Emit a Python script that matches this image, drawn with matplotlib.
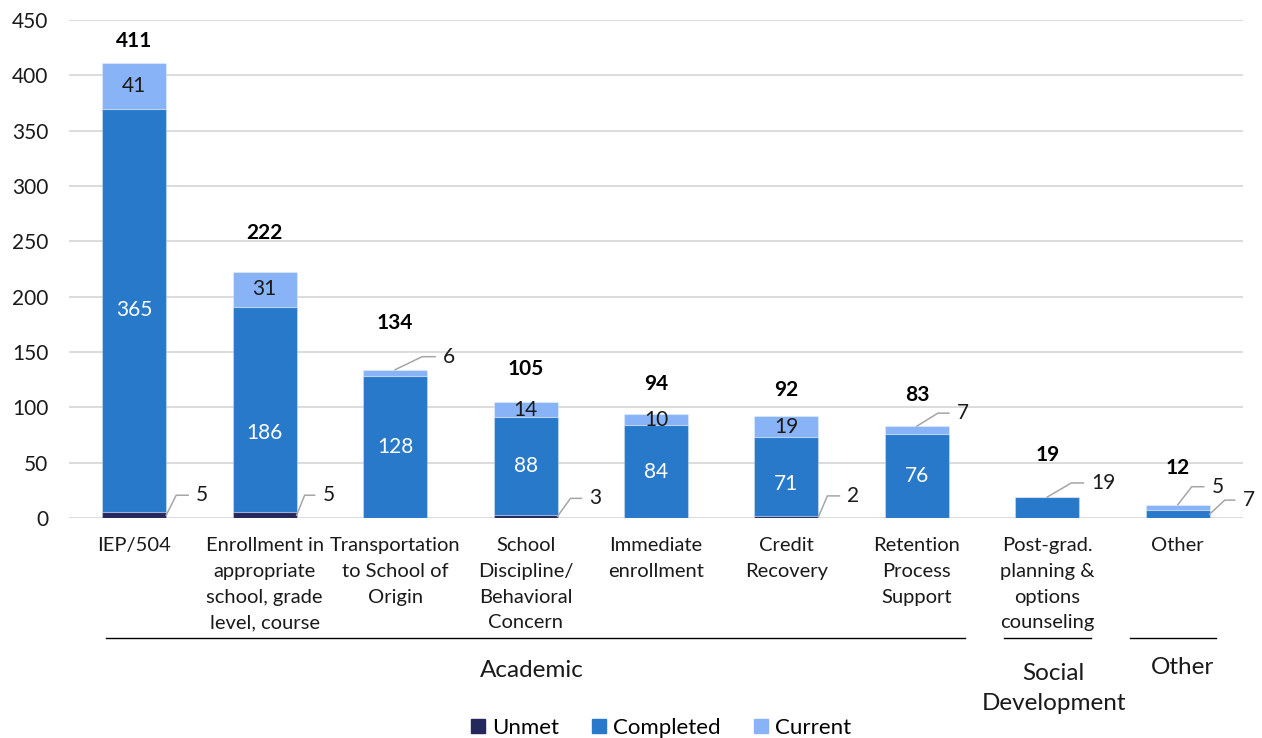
import numpy as np
import matplotlib.pyplot as plt
import matplotlib.transforms as mtransforms
from matplotlib.patches import Patch

plt.rcParams['font.family'] = ['Lato', 'DejaVu Sans']

categories = ['IEP/504',
              'Enrollment in\nappropriate\nschool, grade\nlevel, course',
              'Transportation\nto School of\nOrigin',
              'School\nDiscipline/\nBehavioral\nConcern',
              'Immediate\nenrollment',
              'Credit\nRecovery',
              'Retention\nProcess\nSupport',
              'Post-grad.\nplanning &\noptions\ncounseling',
              'Other']
unmet = [5, 5, 0, 3, 0, 2, 0, 0, 0]
completed = [365, 186, 128, 88, 84, 71, 76, 19, 7]
current = [41, 31, 6, 14, 10, 19, 7, 0, 5]
groups = ['Academic', 'Social\nDevelopment', 'Other']

colors = {'Unmet': '#25285A', 'Completed': '#2979CB', 'Current': '#88B3F6'}
text_col = '#1a1a1a'
leader_col = '#A6A6A6'

# gap (px) between bar top and the bold total
total_pad = [22, 39, 47, 33, 30, 26, 31, 42, 37]

# leader lines: (series, bar) -> (anchor, dx, dy, horizontal) in px
# anchor 'edge' = right edge at segment middle, 'top' = centre of bar top
callouts = {
    ('Unmet', 0): ('edge', 10, 20, 12),
    ('Unmet', 1): ('edge', 8, 20, 10),
    ('Unmet', 3): ('edge', 13, 18, 11),
    ('Unmet', 5): ('edge', 9, 21, 12),
    ('Current', 2): ('top', 27, 13, 13),
    ('Current', 6): ('top', 21, 13, 11),
    ('Completed', 7): ('top', 24, 14, 12),
    ('Current', 8): ('top', 14, 18, 12),
    ('Completed', 8): ('edge', 15, 14, 10),
}
# a couple of inside labels sit lower than the segment centre (px)
label_nudge = {('Completed', 1): -23, ('Completed', 5): -8}

fig = plt.figure(figsize=(12.62, 7.38), dpi=100)
ax = fig.add_axes([69 / 1262, 1 - 518 / 738, 1174 / 1262, 498 / 738])

x = np.arange(len(categories))
w = 0.49
series = [('Unmet', unmet), ('Completed', completed), ('Current', current)]
bottom = np.zeros(len(categories))
seg = {}
for name, vals in series:
    vals = np.array(vals, dtype=float)
    ax.bar(x, vals, w, bottom=bottom, color=colors[name],
           edgecolor=(1, 1, 1, 0.3), linewidth=0.8, zorder=3)
    seg[name] = (bottom.copy(), vals)
    bottom = bottom + vals
totals = bottom

ax.set_xlim(-0.5, len(categories) - 0.5)
ax.set_ylim(0, 450)
ax.set_yticks(np.arange(0, 451, 50))
ax.yaxis.grid(True, color='#D9D9D9', linewidth=1.3, zorder=0)
ax.set_axisbelow(True)
for s in ax.spines.values():
    s.set_visible(False)
ax.tick_params(axis='y', length=0, pad=15, labelsize=15, labelcolor=text_col)
ax.tick_params(axis='x', length=0, pad=14)
ax.set_xticks(x)
ax.set_xticklabels(categories, fontsize=14.5, color=text_col, linespacing=1.62)


def px_offset(xd, yd):
    return mtransforms.Affine2D() + mtransforms.ScaledTranslation(xd, yd, ax.transData)


for name, vals in series:
    bot, v = seg[name]
    for i in range(len(categories)):
        if v[i] == 0:
            continue
        key = (name, i)
        if key in callouts:
            anchor, dx, dy, h = callouts[key]
            if anchor == 'edge':
                ax_, ay_ = x[i] + w / 2, bot[i] + v[i] / 2
            else:
                ax_, ay_ = x[i], bot[i] + v[i]
            tr = px_offset(ax_, ay_)
            ax.plot([0, dx, dx + h], [0, dy, dy], color=leader_col, lw=1.1,
                    transform=tr, zorder=4, clip_on=False)
            ax.text(dx + h + 8, dy, f'{int(v[i])}', transform=tr, ha='left',
                    va='center', fontsize=15, color=text_col, zorder=5)
        else:
            c = 'white' if name == 'Completed' else text_col
            tr = px_offset(x[i], bot[i] + v[i] / 2)
            ax.text(0, label_nudge.get(key, 0), f'{int(v[i])}', transform=tr,
                    ha='center', va='center', fontsize=15, color=c, zorder=5)

for i, t in enumerate(totals):
    ax.text(0, total_pad[i], f'{int(t)}', transform=px_offset(x[i], t),
            ha='center', va='center', fontsize=15, fontweight='bold',
            color='black', zorder=5)

# group brackets under the category labels
blend = mtransforms.blended_transform_factory(ax.transData, ax.transAxes)
group_lines = [(-0.216, 6.37), (6.669, 7.336), (7.635, 8.294)]
group_label_x = [3.05, 7.05, 8.04]
group_label_y = [-0.307, -0.342, -0.301]
for (x0, x1), lx, ly, g in zip(group_lines, group_label_x, group_label_y, groups):
    ax.plot([x0, x1], [-0.241, -0.241], color='black', lw=1.0,
            transform=blend, clip_on=False, zorder=6)
    ax.text(lx, ly, g, transform=blend, ha='center', va='center',
            fontsize=17.5, color=text_col, linespacing=1.55)

handles = [Patch(color=colors[n]) for n, _ in series]
fig.legend(handles, [n for n, _ in series], loc='center',
           bbox_to_anchor=(661 / 1262, 1 - 728 / 738), ncol=3, frameon=False,
           fontsize=16, handlelength=0.63, handleheight=0.63,
           handletextpad=0.3, columnspacing=1.5, borderpad=0)

fig.savefig('out.png', dpi=100)
